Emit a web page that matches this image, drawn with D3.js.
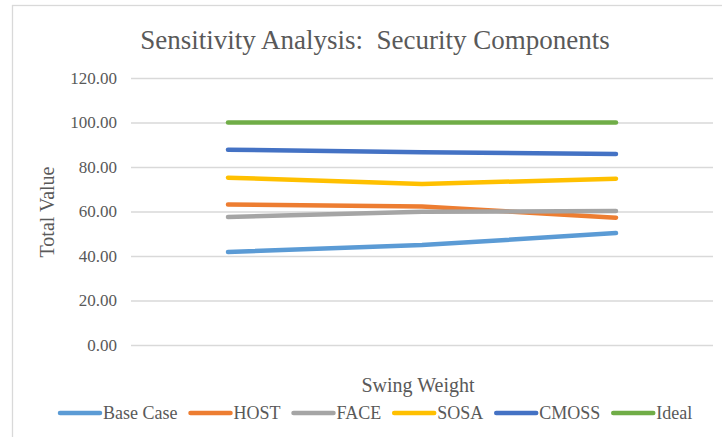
<!DOCTYPE html>
<html>
<head>
<meta charset="utf-8">
<script src="https://cdn.jsdelivr.net/npm/d3@7"></script>
<style>
  body { margin: 0; background: #fff; }
</style>
</head>
<body>
<div id="chart"></div>
<script>
// data
var categories = [1, 2, 3];
var seriesNames = ["Base Case", "HOST", "FACE", "SOSA", "CMOSS", "Ideal"];
var baseCase = [41.8, 44.9, 50.3];
var host = [63.1, 62.3, 57.2];
var face = [57.5, 59.9, 60.2];
var sosa = [75.2, 72.4, 74.7];
var cmoss = [87.8, 86.6, 85.8];
var ideal = [100, 100, 100];
var yTicks = [0, 20, 40, 60, 80, 100, 120];

var colors = ["#5B9BD5", "#ED7D31", "#A5A5A5", "#FFC000", "#4472C4", "#70AD47"];
var values = [baseCase, host, face, sosa, cmoss, ideal];

var width = 722, height = 437;
var serif = "'Liberation Serif', 'Times New Roman', serif";

var svg = d3.select("#chart")
  .append("svg")
  .attr("width", width)
  .attr("height", height);

// chart area border (runs off the right and bottom edge)
svg.append("rect")
  .attr("x", 12.5).attr("y", 5.5)
  .attr("width", 740).attr("height", 460)
  .attr("fill", "none")
  .attr("stroke", "#d9d9d9")
  .attr("stroke-width", 1.3);

var x = d3.scalePoint()
  .domain(categories)
  .range([131, 713])
  .padding(0.5);

var y = d3.scaleLinear()
  .domain([0, 120])
  .range([345, 78]);

// gridlines + tick labels
var yAxis = svg.append("g")
  .attr("transform", "translate(131,0)")
  .call(d3.axisLeft(y).tickValues(yTicks).tickSize(-(713 - 131)).tickPadding(14)
    .tickFormat(d3.format(".2f")));
yAxis.select(".domain").remove();
yAxis.selectAll(".tick line").attr("stroke", "#d9d9d9").attr("stroke-width", 1.3);
yAxis.selectAll(".tick text")
  .attr("fill", "#595959")
  .style("font-family", serif)
  .style("font-size", "17px");

// lines
var line = d3.line()
  .x(function(d, i) { return x(categories[i]); })
  .y(function(d) { return y(d); });

svg.selectAll(".series")
  .data(values)
  .enter()
  .append("path")
  .attr("class", "series")
  .attr("d", line)
  .attr("fill", "none")
  .attr("stroke", function(d, i) { return colors[i]; })
  .attr("stroke-width", 4.5)
  .attr("stroke-linecap", "round")
  .attr("stroke-linejoin", "round");

function label(sel, size) {
  return sel.style("font-family", serif)
    .style("font-size", size + "px")
    .attr("fill", "#595959");
}

// title
label(svg.append("text"), 27)
  .attr("x", 375).attr("y", 49)
  .attr("text-anchor", "middle")
  .style("white-space", "pre")
  .text("Sensitivity Analysis:  Security Components");

// axis titles
label(svg.append("text"), 20)
  .attr("transform", "translate(54,212) rotate(-90)")
  .attr("text-anchor", "middle")
  .text("Total Value");

label(svg.append("text"), 20)
  .attr("x", 418).attr("y", 392)
  .attr("text-anchor", "middle")
  .text("Swing Weight");

// legend
var legend = svg.append("g");
var lx = 60;
seriesNames.forEach(function(name, i) {
  legend.append("line")
    .attr("x1", lx).attr("x2", lx + 40)
    .attr("y1", 413).attr("y2", 413)
    .attr("stroke", colors[i])
    .attr("stroke-width", 4.5)
    .attr("stroke-linecap", "round");
  var t = label(legend.append("text"), 18)
    .attr("x", lx + 43).attr("y", 419)
    .text(name);
  lx += 43 + t.node().getComputedTextLength() + 13;
});
</script>
</body>
</html>
